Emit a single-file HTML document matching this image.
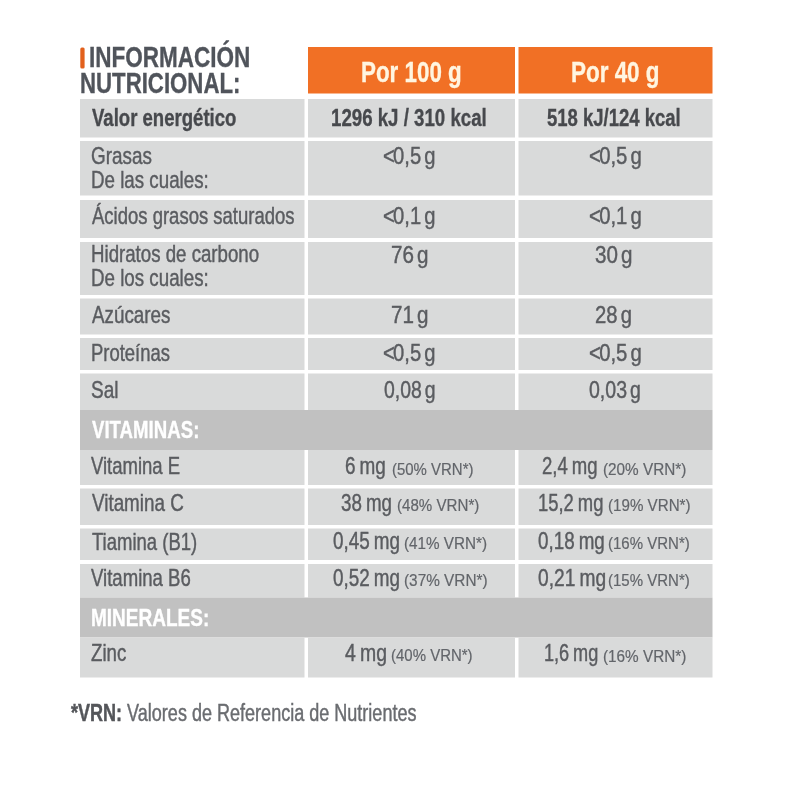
<!DOCTYPE html>
<html lang="es"><head><meta charset="utf-8"><title>Información nutricional</title>
<style>
html,body{margin:0;padding:0;background:#fff}
body{width:800px;height:800px;position:relative;overflow:hidden;font-family:"Liberation Sans",Arial,sans-serif}
.r{position:absolute}
.t{position:absolute;white-space:nowrap;line-height:1;transform-origin:left top;filter:blur(0.7px)}
</style></head><body>
<svg class="r" style="left:0;top:0" width="800" height="800" viewBox="0 0 800 800">
<rect x="80.3" y="47.5" width="4.3" height="21" fill="#e2601c" rx="1.5"/>
<rect x="308" y="47" width="207" height="46.5" fill="#f17025"/>
<rect x="518.5" y="47" width="194" height="46.5" fill="#f17025"/>
<rect x="80" y="99" width="224.5" height="38.5" fill="#d9dada"/>
<rect x="308" y="99" width="207" height="38.5" fill="#d9dada"/>
<rect x="518.5" y="99" width="194" height="38.5" fill="#d9dada"/>
<rect x="80" y="141" width="224.5" height="54.5" fill="#d9dada"/>
<rect x="308" y="141" width="207" height="54.5" fill="#d9dada"/>
<rect x="518.5" y="141" width="194" height="54.5" fill="#d9dada"/>
<rect x="80" y="200" width="224.5" height="38" fill="#d9dada"/>
<rect x="308" y="200" width="207" height="38" fill="#d9dada"/>
<rect x="518.5" y="200" width="194" height="38" fill="#d9dada"/>
<rect x="80" y="242" width="224.5" height="53" fill="#d9dada"/>
<rect x="308" y="242" width="207" height="53" fill="#d9dada"/>
<rect x="518.5" y="242" width="194" height="53" fill="#d9dada"/>
<rect x="80" y="298.5" width="224.5" height="36" fill="#d9dada"/>
<rect x="308" y="298.5" width="207" height="36" fill="#d9dada"/>
<rect x="518.5" y="298.5" width="194" height="36" fill="#d9dada"/>
<rect x="80" y="338" width="224.5" height="32" fill="#d9dada"/>
<rect x="308" y="338" width="207" height="32" fill="#d9dada"/>
<rect x="518.5" y="338" width="194" height="32" fill="#d9dada"/>
<rect x="80" y="373.5" width="224.5" height="36.5" fill="#d9dada"/>
<rect x="308" y="373.5" width="207" height="36.5" fill="#d9dada"/>
<rect x="518.5" y="373.5" width="194" height="36.5" fill="#d9dada"/>
<rect x="80" y="410" width="632.5" height="40" fill="#c1c1c1"/>
<rect x="80" y="450" width="224.5" height="35" fill="#d9dada"/>
<rect x="308" y="450" width="207" height="35" fill="#d9dada"/>
<rect x="518.5" y="450" width="194" height="35" fill="#d9dada"/>
<rect x="80" y="488.5" width="224.5" height="36.5" fill="#d9dada"/>
<rect x="308" y="488.5" width="207" height="36.5" fill="#d9dada"/>
<rect x="518.5" y="488.5" width="194" height="36.5" fill="#d9dada"/>
<rect x="80" y="528.5" width="224.5" height="31.5" fill="#d9dada"/>
<rect x="308" y="528.5" width="207" height="31.5" fill="#d9dada"/>
<rect x="518.5" y="528.5" width="194" height="31.5" fill="#d9dada"/>
<rect x="80" y="564" width="224.5" height="33.5" fill="#d9dada"/>
<rect x="308" y="564" width="207" height="33.5" fill="#d9dada"/>
<rect x="518.5" y="564" width="194" height="33.5" fill="#d9dada"/>
<rect x="80" y="597.5" width="632.5" height="40" fill="#c1c1c1"/>
<rect x="80" y="637.5" width="224.5" height="40" fill="#d9dada"/>
<rect x="308" y="637.5" width="207" height="40" fill="#d9dada"/>
<rect x="518.5" y="637.5" width="194" height="40" fill="#d9dada"/>
</svg>
<div class="t" id="t0" style="left:88.73px;top:41.99px;font-size:29.3px;color:#50545b;transform:scaleX(0.7684);font-weight:bold;-webkit-text-stroke:0.35px currentColor;">INFORMACIÓN</div>
<div class="t" id="t1" style="left:79.61px;top:67.99px;font-size:29.3px;color:#50545b;transform:scaleX(0.7582);font-weight:bold;-webkit-text-stroke:0.35px currentColor;">NUTRICIONAL:</div>
<div class="t" id="t2" style="left:360.84px;top:57.32px;font-size:29.5px;color:#fff5e0;transform:scaleX(0.7582);font-weight:bold;-webkit-text-stroke:0.35px currentColor;">Por 100 g</div>
<div class="t" id="t3" style="left:570.82px;top:57.32px;font-size:29.5px;color:#fff5e0;transform:scaleX(0.7606);font-weight:bold;-webkit-text-stroke:0.35px currentColor;">Por 40 g</div>
<div class="t" id="t4" style="left:91.61px;top:106.41px;font-size:24px;color:#47494d;transform:scaleX(0.7731);font-weight:bold;-webkit-text-stroke:0.35px currentColor;">Valor energético</div>
<div class="t" id="t5" style="left:331.12px;top:106.41px;font-size:24px;color:#47494d;transform:scaleX(0.7780);font-weight:bold;-webkit-text-stroke:0.35px currentColor;">1296 kJ / 310 kcal</div>
<div class="t" id="t6" style="left:547.12px;top:106.41px;font-size:24px;color:#47494d;transform:scaleX(0.7710);font-weight:bold;-webkit-text-stroke:0.35px currentColor;">518 kJ/124 kcal</div>
<div class="t" id="t7" style="left:90.56px;top:145.16px;font-size:23.7px;color:#5a5c60;transform:scaleX(0.7968);-webkit-text-stroke:0.45px currentColor;">Grasas</div>
<div class="t" id="t8" style="left:90.66px;top:168.66px;font-size:23.7px;color:#5a5c60;transform:scaleX(0.7913);-webkit-text-stroke:0.45px currentColor;">De las cuales:</div>
<div class="t" id="t9" style="left:91.69px;top:204.66px;font-size:23.7px;color:#5a5c60;transform:scaleX(0.7809);-webkit-text-stroke:0.45px currentColor;">Ácidos grasos saturados</div>
<div class="t" id="t10" style="left:90.68px;top:242.66px;font-size:23.7px;color:#5a5c60;transform:scaleX(0.7880);-webkit-text-stroke:0.45px currentColor;">Hidratos de carbono</div>
<div class="t" id="t11" style="left:90.66px;top:266.66px;font-size:23.7px;color:#5a5c60;transform:scaleX(0.7913);-webkit-text-stroke:0.45px currentColor;">De los cuales:</div>
<div class="t" id="t12" style="left:91.70px;top:303.66px;font-size:23.7px;color:#5a5c60;transform:scaleX(0.7938);-webkit-text-stroke:0.45px currentColor;">Azúcares</div>
<div class="t" id="t13" style="left:90.70px;top:341.66px;font-size:23.7px;color:#5a5c60;transform:scaleX(0.7789);-webkit-text-stroke:0.45px currentColor;">Proteínas</div>
<div class="t" id="t14" style="left:90.58px;top:378.66px;font-size:23.7px;color:#5a5c60;transform:scaleX(0.8031);-webkit-text-stroke:0.45px currentColor;">Sal</div>
<div class="t" id="t15" style="left:92.00px;top:417.71px;font-size:24px;color:#ffffff;transform:scaleX(0.7767);font-weight:bold;-webkit-text-stroke:0.35px currentColor;">VITAMINAS:</div>
<div class="t" id="t16" style="left:91.49px;top:454.66px;font-size:23.7px;color:#5a5c60;transform:scaleX(0.7812);-webkit-text-stroke:0.45px currentColor;">Vitamina E</div>
<div class="t" id="t17" style="left:91.50px;top:491.66px;font-size:23.7px;color:#5a5c60;transform:scaleX(0.7950);-webkit-text-stroke:0.45px currentColor;">Vitamina C</div>
<div class="t" id="t18" style="left:92.40px;top:530.66px;font-size:23.7px;color:#5a5c60;transform:scaleX(0.7809);-webkit-text-stroke:0.45px currentColor;">Tiamina (B1)</div>
<div class="t" id="t19" style="left:91.49px;top:566.66px;font-size:23.7px;color:#5a5c60;transform:scaleX(0.7842);-webkit-text-stroke:0.45px currentColor;">Vitamina B6</div>
<div class="t" id="t20" style="left:91.07px;top:605.71px;font-size:24px;color:#ffffff;transform:scaleX(0.7919);font-weight:bold;-webkit-text-stroke:0.35px currentColor;">MINERALES:</div>
<div class="t" id="t21" style="left:91.10px;top:641.66px;font-size:23.7px;color:#5a5c60;transform:scaleX(0.7884);-webkit-text-stroke:0.45px currentColor;">Zinc</div>
<div class="t" id="t22" style="left:383.01px;top:144.40px;font-size:24px;color:#5a5c60;transform:scaleX(0.8408);-webkit-text-stroke:0.45px currentColor;word-spacing:-3px;"><span style="letter-spacing:-2px">&lt;</span>0,5 g</div>
<div class="t" id="t23" style="left:588.97px;top:144.40px;font-size:24px;color:#5a5c60;transform:scaleX(0.8460);-webkit-text-stroke:0.45px currentColor;word-spacing:-3px;"><span style="letter-spacing:-2px">&lt;</span>0,5 g</div>
<div class="t" id="t24" style="left:383.01px;top:204.40px;font-size:24px;color:#5a5c60;transform:scaleX(0.8408);-webkit-text-stroke:0.45px currentColor;word-spacing:-3px;"><span style="letter-spacing:-2px">&lt;</span>0,1 g</div>
<div class="t" id="t25" style="left:588.97px;top:204.40px;font-size:24px;color:#5a5c60;transform:scaleX(0.8460);-webkit-text-stroke:0.45px currentColor;word-spacing:-3px;"><span style="letter-spacing:-2px">&lt;</span>0,1 g</div>
<div class="t" id="t26" style="left:391.28px;top:243.40px;font-size:24px;color:#5a5c60;transform:scaleX(0.8589);-webkit-text-stroke:0.45px currentColor;word-spacing:-3px;">76 g</div>
<div class="t" id="t27" style="left:594.99px;top:243.40px;font-size:24px;color:#5a5c60;transform:scaleX(0.8587);-webkit-text-stroke:0.45px currentColor;word-spacing:-3px;">30 g</div>
<div class="t" id="t28" style="left:391.28px;top:303.40px;font-size:24px;color:#5a5c60;transform:scaleX(0.8589);-webkit-text-stroke:0.45px currentColor;word-spacing:-3px;">71 g</div>
<div class="t" id="t29" style="left:595.23px;top:303.40px;font-size:24px;color:#5a5c60;transform:scaleX(0.8442);-webkit-text-stroke:0.45px currentColor;word-spacing:-3px;">28 g</div>
<div class="t" id="t30" style="left:383.01px;top:341.40px;font-size:24px;color:#5a5c60;transform:scaleX(0.8408);-webkit-text-stroke:0.45px currentColor;word-spacing:-3px;"><span style="letter-spacing:-2px">&lt;</span>0,5 g</div>
<div class="t" id="t31" style="left:588.97px;top:341.40px;font-size:24px;color:#5a5c60;transform:scaleX(0.8460);-webkit-text-stroke:0.45px currentColor;word-spacing:-3px;"><span style="letter-spacing:-2px">&lt;</span>0,5 g</div>
<div class="t" id="t32" style="left:384.03px;top:378.40px;font-size:24px;color:#5a5c60;transform:scaleX(0.8088);-webkit-text-stroke:0.45px currentColor;word-spacing:-3px;">0,08 g</div>
<div class="t" id="t33" style="left:589.02px;top:378.40px;font-size:24px;color:#5a5c60;transform:scaleX(0.8135);-webkit-text-stroke:0.45px currentColor;word-spacing:-3px;">0,03 g</div>
<div class="t" id="t34" style="left:345.34px;top:454.40px;font-size:24px;color:#5a5c60;transform:scaleX(0.7887);-webkit-text-stroke:0.45px currentColor;word-spacing:-1.5px;">6 mg</div>
<div class="t" id="t35" style="left:391.75px;top:460.58px;font-size:17px;color:#62656a;transform:scaleX(0.8800);-webkit-text-stroke:0.2px currentColor;">(50% VRN*)</div>
<div class="t" id="t36" style="left:542.11px;top:454.40px;font-size:24px;color:#5a5c60;transform:scaleX(0.7736);-webkit-text-stroke:0.45px currentColor;word-spacing:-1.5px;">2,4 mg</div>
<div class="t" id="t37" style="left:602.94px;top:460.93px;font-size:17px;color:#62656a;transform:scaleX(0.9000);-webkit-text-stroke:0.2px currentColor;">(20% VRN*)</div>
<div class="t" id="t38" style="left:340.81px;top:491.40px;font-size:24px;color:#5a5c60;transform:scaleX(0.7820);-webkit-text-stroke:0.45px currentColor;word-spacing:-1.5px;">38 mg</div>
<div class="t" id="t39" style="left:396.95px;top:497.14px;font-size:17px;color:#62656a;transform:scaleX(0.8890);-webkit-text-stroke:0.2px currentColor;">(48% VRN*)</div>
<div class="t" id="t40" style="left:538.10px;top:491.40px;font-size:24px;color:#5a5c60;transform:scaleX(0.7673);-webkit-text-stroke:0.45px currentColor;word-spacing:-1.5px;">15,2 mg</div>
<div class="t" id="t41" style="left:607.95px;top:497.18px;font-size:17px;color:#62656a;transform:scaleX(0.8917);-webkit-text-stroke:0.2px currentColor;">(19% VRN*)</div>
<div class="t" id="t42" style="left:333.06px;top:529.40px;font-size:24px;color:#5a5c60;transform:scaleX(0.7863);-webkit-text-stroke:0.45px currentColor;word-spacing:-1.5px;">0,45 mg</div>
<div class="t" id="t43" style="left:403.94px;top:535.07px;font-size:17px;color:#62656a;transform:scaleX(0.8972);-webkit-text-stroke:0.2px currentColor;">(41% VRN*)</div>
<div class="t" id="t44" style="left:538.07px;top:529.40px;font-size:24px;color:#5a5c60;transform:scaleX(0.7833);-webkit-text-stroke:0.45px currentColor;word-spacing:-1.5px;">0,18 mg</div>
<div class="t" id="t45" style="left:608.45px;top:534.96px;font-size:17px;color:#62656a;transform:scaleX(0.8831);-webkit-text-stroke:0.2px currentColor;">(16% VRN*)</div>
<div class="t" id="t46" style="left:333.06px;top:566.40px;font-size:24px;color:#5a5c60;transform:scaleX(0.7863);-webkit-text-stroke:0.45px currentColor;word-spacing:-1.5px;">0,52 mg</div>
<div class="t" id="t47" style="left:403.90px;top:572.41px;font-size:17px;color:#62656a;transform:scaleX(0.9027);-webkit-text-stroke:0.2px currentColor;">(37% VRN*)</div>
<div class="t" id="t48" style="left:537.53px;top:566.40px;font-size:24px;color:#5a5c60;transform:scaleX(0.7990);-webkit-text-stroke:0.45px currentColor;word-spacing:-1.5px;">0,21 mg</div>
<div class="t" id="t49" style="left:608.45px;top:571.96px;font-size:17px;color:#62656a;transform:scaleX(0.8831);-webkit-text-stroke:0.2px currentColor;">(15% VRN*)</div>
<div class="t" id="t50" style="left:345.20px;top:641.40px;font-size:24px;color:#5a5c60;transform:scaleX(0.8095);-webkit-text-stroke:0.45px currentColor;word-spacing:-1.5px;">4 mg</div>
<div class="t" id="t51" style="left:390.73px;top:646.95px;font-size:17px;color:#62656a;transform:scaleX(0.8813);-webkit-text-stroke:0.2px currentColor;">(40% VRN*)</div>
<div class="t" id="t52" style="left:543.63px;top:641.40px;font-size:24px;color:#5a5c60;transform:scaleX(0.7556);-webkit-text-stroke:0.45px currentColor;word-spacing:-1.5px;">1,6 mg</div>
<div class="t" id="t53" style="left:602.94px;top:647.93px;font-size:17px;color:#62656a;transform:scaleX(0.9000);-webkit-text-stroke:0.2px currentColor;">(16% VRN*)</div>
<div class="t" id="t54" style="left:71.00px;top:701.95px;font-size:23px;color:#6a6c70;transform:scaleX(0.7841);-webkit-text-stroke:0.45px currentColor;"><b style="color:#54565a">*VRN:</b> Valores de Referencia de Nutrientes</div>
</body></html>
